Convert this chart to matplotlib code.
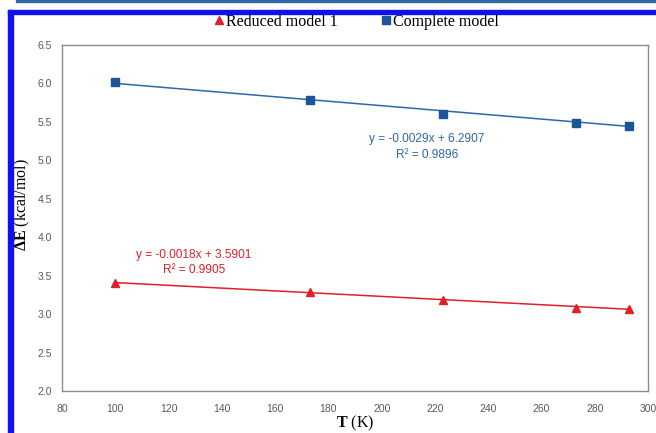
import matplotlib
matplotlib.use("Agg")
import matplotlib.pyplot as plt
from matplotlib.lines import Line2D
from matplotlib.patches import Rectangle

# Temperatures (K) and energy differences (kcal/mol)
temps = [100, 173, 223, 273, 293]
complete_model = [6.02, 5.78, 5.60, 5.48, 5.45]
reduced_model = [3.41, 3.29, 3.19, 3.08, 3.06]

# Linear fit parameters shown on the chart
complete_fit = (-0.0029, 6.2907, 0.9896)
reduced_fit = (-0.0018, 3.5901, 0.9905)

x_ticks = [80, 100, 120, 140, 160, 180, 200, 220, 240, 260, 280, 300]
y_ticks = [2.0, 2.5, 3.0, 3.5, 4.0, 4.5, 5.0, 5.5, 6.0, 6.5]

blue_marker = "#1B5597"
blue_line = "#2F67A3"
red = "#E01F26"
tick_grey = "#595959"
serif = ["Liberation Serif", "DejaVu Serif"]
sans = ["Liberation Sans", "DejaVu Sans"]

plt.rcParams["mathtext.fontset"] = "custom"
plt.rcParams["mathtext.rm"] = "Liberation Serif"
plt.rcParams["mathtext.bf"] = "Liberation Serif:bold"

fig = plt.figure(figsize=(6.56, 4.33), dpi=100)
ax = fig.add_axes([62 / 656, 1 - 391 / 433, (648 - 62) / 656, (391 - 45) / 433])

# data points
ax.plot(temps, complete_model, linestyle="none", marker="s", markersize=5.5,
        color=blue_marker, zorder=3)
ax.plot(temps, reduced_model, linestyle="none", marker="^", markersize=6,
        color=red, zorder=3)

# trend lines from the fit equations
for (slope, icpt, _), col in ((complete_fit, blue_line), (reduced_fit, red)):
    xs = [temps[0], temps[-1]]
    ax.plot(xs, [slope * x + icpt for x in xs], color=col, linewidth=1.1, zorder=2)

ax.set_xlim(x_ticks[0], x_ticks[-1])
ax.set_ylim(y_ticks[0], y_ticks[-1])
ax.set_xticks(x_ticks)
ax.set_yticks(y_ticks)
ax.set_xticklabels([str(t) for t in x_ticks])
ax.set_yticklabels([f"{t:.1f}" for t in y_ticks])
ax.tick_params(length=0, labelsize=7.5, labelcolor=tick_grey)
ax.tick_params(axis="y", pad=7)
ax.tick_params(axis="x", pad=9)
for lab in ax.get_xticklabels() + ax.get_yticklabels():
    lab.set_family(sans)
for sp in ax.spines.values():
    sp.set_color("#8C8C8C")
    sp.set_linewidth(1.0)

# fit equations
def fit_label(cx, y1, y2, fit, col):
    ax.text(cx, y1, f"y = {fit[0]:.4f}x + {fit[1]:.4f}", color=col,
            fontsize=8.6, family=sans, ha="center", va="center")
    ax.text(cx, y2, f"R² = {fit[2]:.4f}", color=col,
            fontsize=8.6, family=sans, ha="center", va="center")

fit_label(217.0, 5.28, 5.07, complete_fit, blue_line)
fit_label(129.5, 3.77, 3.57, reduced_fit, red)

# axis titles: bold symbol, regular unit
fig.text(22 / 656, 1 - 205 / 433, r"$\mathbf{\Delta E}$ (kcal/mol)", rotation=90,
         fontsize=11.5, family=serif, ha="center", va="center")
fig.text(355 / 656, 1 - 423 / 433, r"$\mathbf{T}$ (K)", fontsize=11.5,
         family=serif, ha="center", va="center")

# legend
handles = [
    Line2D([], [], linestyle="none", marker="^", markersize=6, color=red),
    Line2D([], [], linestyle="none", marker="s", markersize=5.5, color=blue_marker),
]
leg = fig.legend(handles, ["Reduced model 1", "Complete model"], ncol=2,
                 loc="center", bbox_to_anchor=(357 / 656, 1 - 22 / 433),
                 frameon=False, handlelength=0.5, handletextpad=0.15,
                 columnspacing=2.8, prop={"family": serif, "size": 11.5})

# page frame
fig.patches.append(Rectangle((8 / 656, 0), 5 / 656, 1 - 10 / 433,
                             transform=fig.transFigure, color="#1010F0", zorder=5))
fig.patches.append(Rectangle((8 / 656, 1 - 14 / 433), 1, 4 / 433,
                             transform=fig.transFigure, color="#1010F0", zorder=5))
fig.patches.append(Rectangle((16 / 656, 1 - 1.5 / 433), 1, 1.5 / 433,
                             transform=fig.transFigure, color="#2A6A9E", zorder=5))

fig.savefig("out.png", dpi=100)
